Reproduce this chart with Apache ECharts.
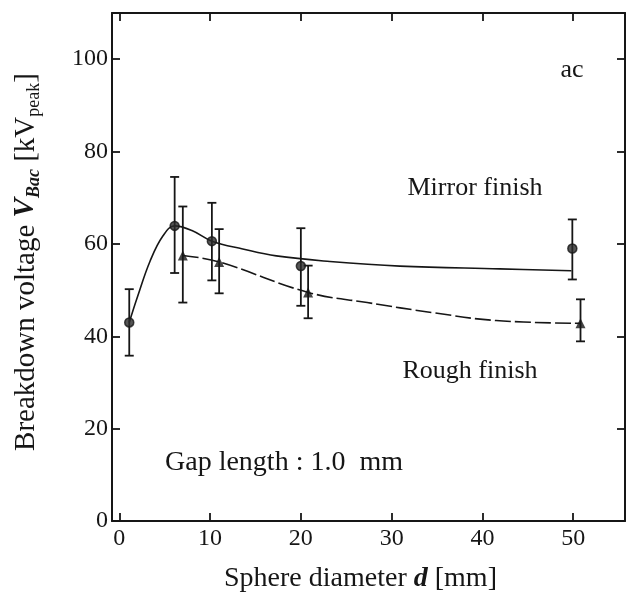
<!DOCTYPE html>
<html lang="en">
<head>
<meta charset="utf-8">
<title>Breakdown voltage vs sphere diameter</title>
<script src="https://cdn.jsdelivr.net/npm/echarts@6/dist/echarts.min.js"></script>
<style>
    html, body { margin: 0; padding: 0; background: #fff; }
    #main { width: 636px; height: 602px; }
</style>
</head>
<body>
<div id="main"></div>
<script type="text/javascript">
    // tick values
    var xTicks = [0, 10, 20, 30, 40, 50];
    var yTicks = [0, 20, 40, 60, 80, 100];

    // mirror finish (circles) : diameter, voltage, error bar low / high
    var mirrorD  = [1.1, 6.1, 10.2, 20.0, 49.9];
    var mirrorV  = [43.0, 63.9, 60.6, 55.2, 59.0];
    var mirrorLo = [35.8, 53.7, 52.1, 46.6, 52.3];
    var mirrorHi = [50.2, 74.5, 68.9, 63.4, 65.3];
    // hand-drawn curve through mirror data
    var mirrorCurveD = [1.1, 2.0, 3.4, 4.8, 6.1, 8.0, 10.2, 13.6, 17.3, 23.2, 30.9, 41.9, 49.8];
    var mirrorCurveV = [43.0, 48.5, 56.3, 61.7, 63.9, 62.9, 60.6, 58.9, 57.4, 56.2, 55.2, 54.6, 54.2];

    // rough finish (triangles)
    var roughD  = [7.0, 11.0, 20.8, 50.8];
    var roughV  = [57.5, 56.1, 49.5, 42.8];
    var roughLo = [47.3, 49.3, 43.9, 38.9];
    var roughHi = [68.1, 63.2, 55.3, 48.0];
    var roughCurveD = [7.0, 11.0, 20.8, 27.3, 34.6, 41.5, 50.8];
    var roughCurveV = [57.5, 56.1, 49.5, 47.3, 45.1, 43.4, 42.8];

    var FONT = '"Liberation Serif", "DejaVu Serif", serif';
    var INK = '#161616';

    function pairs(xs, ys) {
        var out = [];
        for (var i = 0; i < xs.length; i++) out.push([xs[i], ys[i]]);
        return out;
    }

    function errorBars(xs, lo, hi) {
        var data = [];
        for (var i = 0; i < xs.length; i++) data.push([xs[i], lo[i], hi[i]]);
        return {
            type: 'custom',
            data: data,
            encode: { x: 0, y: [1, 2] },
            silent: true,
            z: 3,
            renderItem: function (params, api) {
                var p1 = api.coord([api.value(0), api.value(1)]);
                var p2 = api.coord([api.value(0), api.value(2)]);
                var w = 4.5;
                var st = { stroke: INK, lineWidth: 1.8 };
                return {
                    type: 'group',
                    children: [
                        { type: 'line', shape: { x1: p1[0], y1: p1[1], x2: p2[0], y2: p2[1] }, style: st },
                        { type: 'line', shape: { x1: p1[0] - w, y1: p1[1], x2: p1[0] + w, y2: p1[1] }, style: st },
                        { type: 'line', shape: { x1: p2[0] - w, y1: p2[1], x2: p2[0] + w, y2: p2[1] }, style: st }
                    ]
                };
            }
        };
    }

    var axisLine = { show: true, onZero: false, lineStyle: { color: INK, width: 2 } };
    var tickStyle = { color: INK, width: 1.8 };

    var chart = echarts.init(document.getElementById('main'));

    var option = {
        backgroundColor: '#fff',
        animation: false,
        grid: { left: 112, right: 11, top: 13, bottom: 81, containLabel: false, outerBoundsMode: 'none' },
        xAxis: [{
            type: 'value', min: -0.8, max: 55.7, position: 'bottom',
            axisLine: axisLine,
            axisTick: { inside: true, length: 8, customValues: xTicks, lineStyle: tickStyle },
            axisLabel: { customValues: xTicks, fontSize: 24, color: INK, fontFamily: FONT, margin: 6 },
            splitLine: { show: false },
            name: 'Sphere diameter {b|d} [mm]',
            nameLocation: 'middle',
            nameGap: 44,
            nameTextStyle: {
                fontSize: 28, color: INK, fontFamily: FONT, padding: [0, 16, 0, 0],
                rich: { b: { fontSize: 28, fontFamily: FONT, fontWeight: 'bold', fontStyle: 'italic', color: INK } }
            }
        }, {
            type: 'value', min: -0.8, max: 55.7, position: 'top',
            axisLine: axisLine,
            axisTick: { inside: true, length: 8, customValues: xTicks, lineStyle: tickStyle },
            axisLabel: { show: false },
            splitLine: { show: false }
        }],
        yAxis: [{
            type: 'value', min: 0, max: 110, position: 'left',
            axisLine: axisLine,
            axisTick: { inside: true, length: 8, customValues: yTicks, lineStyle: tickStyle },
            axisLabel: { customValues: yTicks, fontSize: 24, color: INK, fontFamily: FONT, margin: 4 },
            splitLine: { show: false },
            name: 'Breakdown voltage {v|V}{vs|Bac} [kV{s|peak}]',
            nameLocation: 'middle',
            nameGap: 86,
            nameTextStyle: {
                fontSize: 29, color: INK, fontFamily: FONT, lineHeight: 34, verticalAlign: 'middle',
                padding: [0, 0, 0, 10],
                rich: {
                    v: { fontSize: 29, fontFamily: FONT, fontWeight: 'bold', fontStyle: 'italic', color: INK, lineHeight: 34, verticalAlign: 'middle' },
                    vs: { fontSize: 18, fontFamily: FONT, fontWeight: 'bold', fontStyle: 'italic', color: INK, lineHeight: 16, verticalAlign: 'bottom' },
                    s: { fontSize: 18, fontFamily: FONT, color: INK, lineHeight: 16, verticalAlign: 'bottom' }
                }
            }
        }, {
            type: 'value', min: 0, max: 110, position: 'right',
            axisLine: axisLine,
            axisTick: { inside: true, length: 8, customValues: yTicks, lineStyle: tickStyle },
            axisLabel: { show: false },
            splitLine: { show: false }
        }],
        graphic: [
            { type: 'text', x: 572, y: 70, style: { text: 'ac', font: '26px ' + FONT, fill: INK, textAlign: 'center', textVerticalAlign: 'middle' } },
            { type: 'text', x: 475, y: 188, style: { text: 'Mirror finish', font: '26px ' + FONT, fill: INK, textAlign: 'center', textVerticalAlign: 'middle' } },
            { type: 'text', x: 470, y: 371, style: { text: 'Rough finish', font: '26px ' + FONT, fill: INK, textAlign: 'center', textVerticalAlign: 'middle' } },
            { type: 'text', x: 165, y: 463, style: { text: 'Gap length : 1.0  mm', font: '28px ' + FONT, fill: INK, textAlign: 'left', textVerticalAlign: 'middle' } }
        ],
        series: [
            {
                name: 'Mirror curve', type: 'line', data: pairs(mirrorCurveD, mirrorCurveV),
                smooth: 0.4, showSymbol: false, silent: true,
                lineStyle: { color: INK, width: 1.6 }, z: 2
            },
            {
                name: 'Rough curve', type: 'line', data: pairs(roughCurveD, roughCurveV),
                smooth: 0.4, showSymbol: false, silent: true,
                lineStyle: { color: INK, width: 1.6, type: [16, 4] }, z: 2
            },
            errorBars(mirrorD, mirrorLo, mirrorHi),
            errorBars(roughD, roughLo, roughHi),
            {
                name: 'Mirror finish', type: 'scatter', data: pairs(mirrorD, mirrorV),
                symbol: 'circle', symbolSize: 9,
                itemStyle: { color: '#2a2a2a', borderColor: INK, borderWidth: 1.5 }, z: 4
            },
            {
                name: 'Rough finish', type: 'scatter', data: pairs(roughD, roughV),
                symbol: 'triangle', symbolSize: 10,
                itemStyle: { color: INK }, z: 4
            }
        ]
    };

    chart.setOption(option);
</script>
</body>
</html>
